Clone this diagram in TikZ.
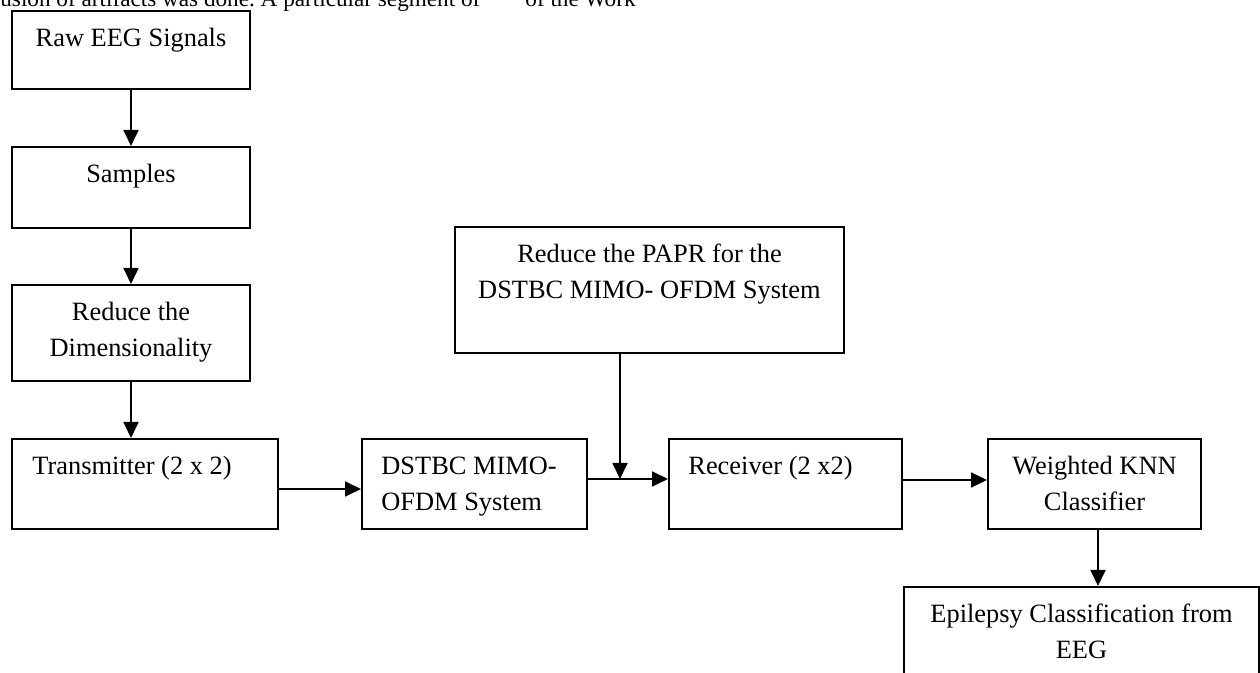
\documentclass[tikz,border=0pt]{standalone}
\usepackage{fontspec}
\setmainfont{Liberation Serif}
\usetikzlibrary{arrows.meta,positioning}

\begin{document}
\begin{tikzpicture}[x=0.5pt,y=-0.5pt,font=\fontsize{13.2pt}{18pt}\selectfont,
blk/.style={draw,line width=1pt,inner sep=0pt},
txt/.style={inner sep=0pt,align=center},
arr/.style={line width=0.9pt,-{Triangle[length=8pt,width=7.5pt]}}]
\useasboundingbox (0,0) rectangle (1260,673);
\clip (0,0) rectangle (1260,673);
\node[anchor=base west,inner sep=0pt,font=\fontsize{11.6pt}{14pt}\selectfont\frenchspacing] (head) at (0,7) {usion of artifacts was done. A particular segment of};
\node[anchor=base west,inner sep=0pt,font=\fontsize{11.6pt}{14pt}\selectfont] (headb) at (525,7) {of the Work};
\node[blk,minimum width=119pt,minimum height=39pt] (raw) at (131,50) {};
\node[blk,minimum width=119pt,minimum height=40.5pt] (samp) at (131,187.5) {};
\node[blk,minimum width=119pt,minimum height=48pt] (red) at (131,333) {};
\node[blk,minimum width=133pt,minimum height=45pt] (tx) at (145,484) {};
\node[blk,minimum width=112.5pt,minimum height=45pt] (dstbc) at (474.5,484) {};
\node[blk,minimum width=194.5pt,minimum height=63pt] (papr) at (649.5,290) {};
\node[blk,minimum width=116.5pt,minimum height=45pt] (rx) at (785.5,484) {};
\node[blk,minimum width=106.5pt,minimum height=45pt] (knn) at (1094.5,484) {};
\node[blk,minimum width=177.5pt,minimum height=56.5pt] (epi) at (1081.5,643.5) {};
\node[txt,below=5.6pt of raw.north] (rawt) {\strut Raw EEG Signals};
\node[txt,below=5.6pt of samp.north] (sampt) {\strut Samples};
\node[txt,below=5.6pt of red.north] (redt) {\strut Reduce the\\Dimensionality};
\node[txt,align=left,below right=5.6pt and 10.5pt of tx.north west] (txt) {\strut Transmitter (2 x 2)};
\node[txt,align=left,below right=5.6pt and 10pt of dstbc.north west] (dstbct) {\strut DSTBC MIMO-\\OFDM System};
\node[txt,below=5.6pt of papr.north] (paprt) {\strut Reduce the PAPR for the\\DSTBC MIMO- OFDM System};
\node[txt,align=left,below right=5.6pt and 10pt of rx.north west] (rxt) {\strut Receiver (2 x2)};
\node[txt,below=5.6pt of knn.north] (knnt) {\strut Weighted KNN\\Classifier};
\node[txt,below=5.6pt of epi.north] (epit) {\strut Epilepsy Classification from\\EEG};
\coordinate (mrg) at (620,479);
\draw[arr] (raw) -- (samp);
\draw[arr] (samp) -- (red);
\draw[arr] (red) -- (red |- tx.north);
\draw[arr] (tx.east |- 0,489) -- (dstbc.west |- 0,489);
\draw[arr] (dstbc.east |- 0,479) -- (rx.west |- 0,479);
\draw[arr] (papr.south -| mrg) -- (mrg);
\draw[arr] (rx.east |- 0,480) -- (knn.west |- 0,480);
\draw[arr] (knn.south -| 1098,0) -- (epi.north -| 1098,0);
\end{tikzpicture}
\end{document}
